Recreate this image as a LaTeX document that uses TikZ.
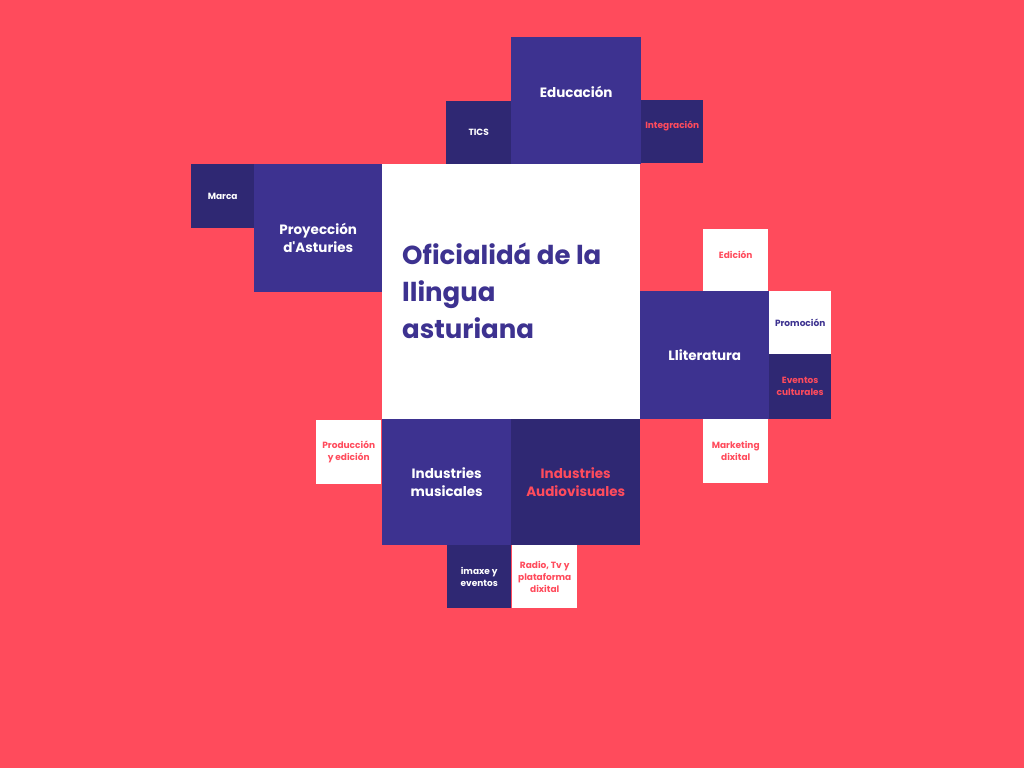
\documentclass[tikz,border=0pt]{standalone}
\usepackage{fontspec}
\setmainfont{Poppins}
\usepackage{tikz}
\definecolor{fondo}{RGB}{255,75,92}
\definecolor{morado}{RGB}{61,50,144}
\definecolor{moscuro}{RGB}{47,40,115}
\tikzset{
  tile/.style={inner sep=0pt, anchor=north west, align=center, font=\bfseries\fontsize{9}{12}\selectfont},
  mid/.style={tile, fill=morado, text=white, font=\bfseries\fontsize{13.5}{18}\selectfont},
  dark/.style={tile, fill=moscuro, text=white},
  blank/.style={tile, fill=white, text=fondo}}

\begin{document}
\begin{tikzpicture}[x=1pt,y=-1pt]

    \fill[fondo] (0,0) rectangle (1024,768);

    \node[mid, minimum width=130pt, minimum height=127pt] (E) at (511,37) {Educaci\'on\\[-1pt]\mbox{}};
    \node[dark, minimum width=65pt, minimum height=63pt] (T) at (446,101) {TICS};
    \node[dark, text=fondo, minimum width=62pt, minimum height=63pt] (I) at (641,100) {Integraci\'on\\[1pt]\mbox{}};

    \node[dark, minimum width=63pt, minimum height=64pt] (M) at (191,164) {Marca};
    \node[mid, minimum width=128pt, minimum height=128pt] (P) at (254,164) {\mbox{}\\[12pt]Proyecci\'on\\d\textquotesingle Asturies};

    \node[tile, fill=white, minimum width=258pt, minimum height=255pt] (C) at (382,164) {};
    \node[anchor=west, align=left, text=morado, inner sep=0pt, font=\bfseries\fontsize{26}{37}\selectfont] (titulo) at ([xshift=20pt,yshift=1pt]C.west) {Oficialid\'a de la\\llingua\\asturiana};

    \node[blank, minimum width=65pt, minimum height=62pt] (Ed) at (703,229) {Edici\'on\\[-2pt]\mbox{}};
    \node[mid, minimum width=129pt, minimum height=128pt] (L) at (640,291) {Lliteratura};
    \node[blank, text=morado, minimum width=62pt, minimum height=63pt] (Pr) at (769,291) {Promoci\'on};
    \node[dark, text=fondo, minimum width=62pt, minimum height=65pt] (Ev) at (769,354) {Eventos\\culturales};
    \node[blank, minimum width=65pt, minimum height=64pt] (Mk) at (703,419) {Marketing\\dixital};

    \node[blank, minimum width=65pt, minimum height=64pt] (Pe) at (316,420) {Producci\'on\\y edici\'on};
    \node[mid, minimum width=129pt, minimum height=126pt] (Im) at (382,419) {Industries\\musicales};
    \node[mid, fill=moscuro, text=fondo, minimum width=129pt, minimum height=126pt] (Ia) at (511,419) {Industries\\Audiovisuales};
    \node[dark, minimum width=64pt, minimum height=63pt] (Iv) at (447,545) {imaxe y\\eventos};
    \node[blank, minimum width=65pt, minimum height=63pt] (R) at (512,545) {Radio, Tv y\\plataforma\\dixital};

\end{tikzpicture}
\end{document}
